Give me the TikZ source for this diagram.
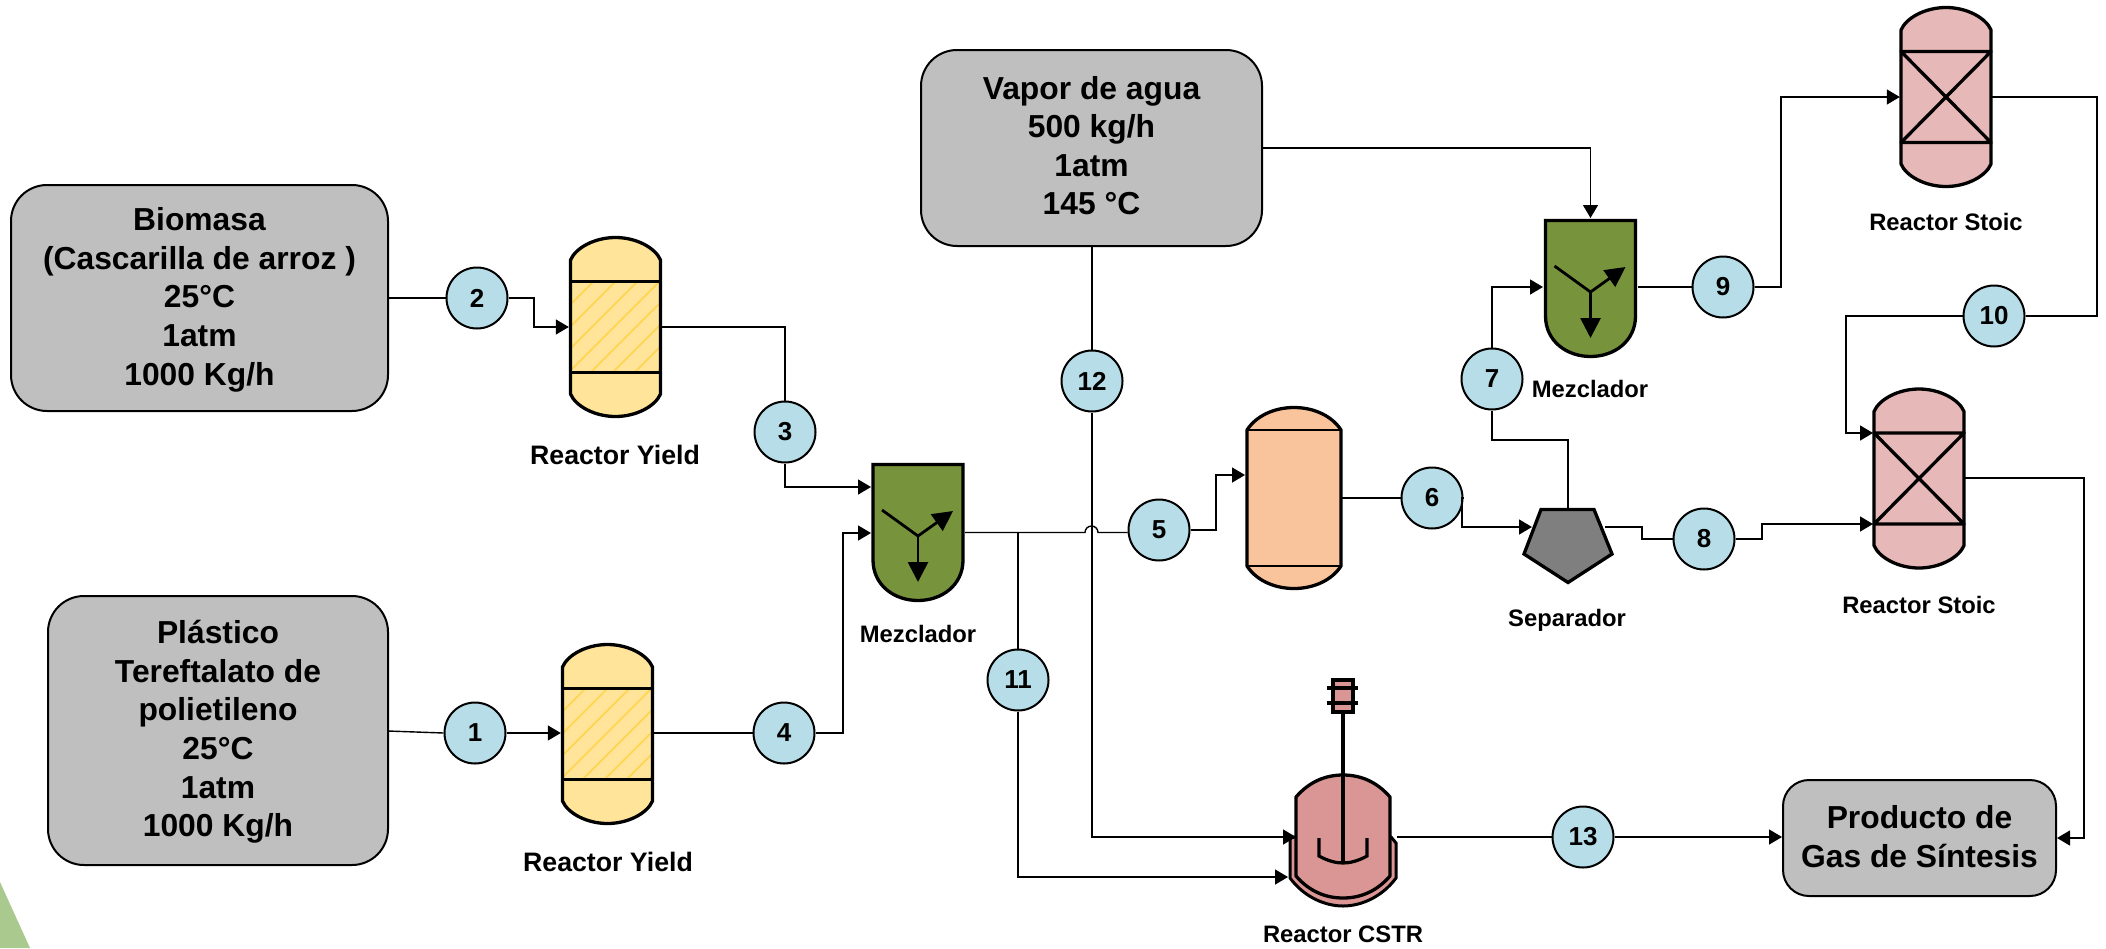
\documentclass[tikz,border=0pt]{standalone}
\usepackage{fontspec}
\setmainfont{Liberation Sans}
\usetikzlibrary{arrows.meta,calc}
\definecolor{boxgrey}{HTML}{BFBFBF}
\definecolor{yellowfill}{HTML}{FFE499}
\definecolor{hatchc}{HTML}{FFD44F}
\definecolor{mixgreen}{HTML}{77933C}
\definecolor{orangefill}{HTML}{F9C49C}
\definecolor{stoicpink}{HTML}{E6B8B7}
\definecolor{cstrpink}{HTML}{D99694}
\definecolor{sepgrey}{HTML}{7F7F7F}
\definecolor{bubble}{HTML}{B7DEE8}
\definecolor{wedge}{HTML}{A9C98F}
\tikzset{
  feedbox/.style={draw=black,line width=2pt,fill=boxgrey,rounded corners=36pt,inner sep=0pt,align=center,
    font=\fontsize{31.8}{38.6}\selectfont\bfseries},
  bub/.style={circle,draw=black,line width=2pt,fill=bubble,minimum size=61pt,inner sep=0pt,
    font=\fontsize{26}{30}\selectfont\bfseries},
  lab/.style={inner sep=0pt,font=\fontsize{23.8}{28}\selectfont\bfseries},
  labbig/.style={inner sep=0pt,font=\fontsize{26.7}{30}\selectfont\bfseries},
  port/.style={inner sep=0pt,minimum width=#1,minimum height=182pt},
  thick eq/.style={draw=black,line width=3.3pt,line join=round},
  flow/.style={draw=black,line width=1.4pt,-{Triangle[length=13pt,width=15pt]}},
  link/.style={draw=black,line width=1.4pt}
}
% vessel outline centred at (#1,#2)
\newcommand{\vesselpath}[2]{
  (#1-45,#2-67) .. controls (#1-40,#2-79) and (#1-21,#2-89.5) .. (#1,#2-89.5)
  .. controls (#1+21,#2-89.5) and (#1+40,#2-79) .. (#1+45,#2-67)
  -- (#1+45,#2+67) .. controls (#1+40,#2+79) and (#1+21,#2+89.5) .. (#1,#2+89.5)
  .. controls (#1-21,#2+89.5) and (#1-40,#2+79) .. (#1-45,#2+67) -- cycle}
\newcommand{\yieldvessel}[2]{
  \fill[yellowfill] \vesselpath{#1}{#2};
  \begin{scope}
    \clip (#1-45,#2-45.5) rectangle (#1+45,#2+45.5);
    \foreach \d in {-90,-68,...,100}{
      \draw[hatchc,line width=1.7pt] (#1-45+\d,#2+45.5) -- ++(95,-95);
    }
  \end{scope}
  \draw[thick eq] \vesselpath{#1}{#2};
  \draw[thick eq,line cap=butt] (#1-45,#2-45.5) -- (#1+45,#2-45.5);
  \draw[thick eq,line cap=butt] (#1-45,#2+45.5) -- (#1+45,#2+45.5);
}
\newcommand{\stoicvessel}[2]{
  \fill[stoicpink] \vesselpath{#1}{#2};
  \draw[thick eq] \vesselpath{#1}{#2};
  \draw[thick eq,line cap=butt] (#1-45,#2-45.5) -- (#1+45,#2-45.5) -- (#1-45,#2+45.5) -- (#1+45,#2+45.5) -- cycle;
}
% mixer with flat top: x centre, outer top y
\newcommand{\mixer}[2]{
  \draw[thick eq,line join=miter,fill=mixgreen] (#1-45,#2+1.5) -- (#1+45,#2+1.5) -- (#1+45,#2+97)
    .. controls (#1+45,#2+122) and (#1+24,#2+137.5) .. (#1,#2+137.5)
    .. controls (#1-24,#2+137.5) and (#1-45,#2+122) .. (#1-45,#2+97) -- cycle;
  \draw[line width=2.8pt,-{Triangle[length=20pt,width=20pt]}] (#1-36,#2+47) -- (#1,#2+73) -- (#1+35,#2+48);
  \draw[line width=2.8pt,-{Triangle[length=20pt,width=20pt]}] (#1,#2+73) -- (#1,#2+119);
}
\begin{document}
\begin{tikzpicture}[x=1pt,y=-1pt]
\useasboundingbox (0,0) rectangle (2106,948);
\fill[white] (0,0) rectangle (2106,948);
\fill[wedge] (0,882) -- (30,948) -- (0,948) -- cycle;

% equipment drawings
\yieldvessel{615.5}{327}
\yieldvessel{607.5}{734}
\stoicvessel{1946}{97}
\stoicvessel{1919}{478.5}
\mixer{918}{463}
\mixer{1590.5}{219}
% flash drum
\draw[thick eq,fill=orangefill]
  (1247,430) .. controls (1256,416) and (1274,407.5) .. (1294,407.5)
  .. controls (1314,407.5) and (1332,416) .. (1341,430) -- (1341,566)
  .. controls (1332,580) and (1314,588.5) .. (1294,588.5)
  .. controls (1274,588.5) and (1256,580) .. (1247,566) -- cycle;
\draw[line width=1.4pt] (1247,430) -- (1341,430);
\draw[line width=1.4pt] (1247,566) -- (1341,566);
% separator
\draw[thick eq,line join=miter,fill=sepgrey] (1541,509.5) -- (1594,509.5) -- (1612,554) -- (1568,582.5) -- (1524,554) -- cycle;
% CSTR
\draw[draw=black,line width=3pt,fill=cstrpink]
  (1290,838) -- (1290,878) .. controls (1304,897) and (1325,906) .. (1343,906)
  .. controls (1361,906) and (1382,897) .. (1396,878) -- (1396,843) -- (1391,837) -- (1295,837) -- cycle;
\draw[thick eq,fill=cstrpink] (1296,797) .. controls (1309,782) and (1325,775) .. (1343,775)
  .. controls (1361,775) and (1377,782) .. (1390,797) -- (1390,876)
  .. controls (1377,891) and (1361,898) .. (1343,898)
  .. controls (1325,898) and (1309,891) .. (1296,876) -- cycle;
\draw[line width=3.2pt] (1343,712) -- (1343,862);
\draw[line width=3.2pt] (1319,838) -- (1319,856) .. controls (1328,861) and (1336,863) .. (1343,863)
  .. controls (1350,863) and (1358,861) .. (1367,856) -- (1367,838);
\draw[line width=3.2pt,fill=cstrpink] (1333,680) rectangle (1353,712);
\draw[line width=3.2pt] (1327,688) -- (1358,688);
\draw[line width=3.2pt] (1327,703) -- (1358,703);

% named equipment anchors (invisible)
\node[port=93pt]  (ry1) at (615.5,327) {};
\node[port=93pt]  (ry2) at (607.5,734) {};
\node[port=92pt]  (rs1) at (1946,97) {};
\node[port=92pt]  (rs2) at (1919,478) {};
\node[port=96pt]  (drum) at (1294,498) {};
\coordinate (mx1a) at (871,487);
\coordinate (mx1b) at (871,533);
\coordinate (mx1o) at (965,532.5);
\coordinate (mx2t) at (1590.5,218);
\coordinate (mx2i) at (1543,287);
\coordinate (mx2o) at (1638,287);
\coordinate (drumin) at (1245,475);
\coordinate (septop) at (1568,508);
\coordinate (sepin) at (1532,527);
\coordinate (sepout) at (1605,527);
\coordinate (rs2a) at (1873,433);
\coordinate (rs2b) at (1873,524);
\coordinate (cstra) at (1296,837);
\coordinate (cstrb) at (1288,877);
\coordinate (cstro) at (1397,837);
\coordinate (hopa) at (1085,532.5);
\coordinate (branch) at (1018,532.5);

% feed boxes
\node[feedbox,minimum width=377pt,minimum height=226pt] (biomasa) at (199.5,298) {\rule{0pt}{26.5pt}Biomasa\\(Cascarilla de arroz )\\25°C\\1atm\\1000 Kg/h};
\node[feedbox,minimum width=340pt,minimum height=269pt] (plastico) at (218,730.5) {\rule{0pt}{26pt}Plástico\\Tereftalato de\\polietileno\\25°C\\1atm\\1000 Kg/h};
\node[feedbox,minimum width=341pt,minimum height=196pt] (vapor) at (1091.5,148) {Vapor de agua\\500 kg/h\\1atm\\\rule[-5pt]{0pt}{0pt}145 °C};
\node[feedbox,rounded corners=26pt,minimum width=273pt,minimum height=116pt] (prod) at (1919.5,838) {Producto de\\\rule[-2.5pt]{0pt}{0pt}Gas de Síntesis};

% stream bubbles
\node[bub] (n1) at (475,733) {1};
\node[bub] (n2) at (477,298) {2};
\node[bub] (n3) at (785,432) {3};
\node[bub] (n4) at (784,733) {4};
\node[bub] (n5) at (1159,530) {5};
\node[bub] (n6) at (1432,498) {6};
\node[bub] (n7) at (1492,379) {7};
\node[bub] (n8) at (1704,539) {8};
\node[bub] (n9) at (1723,287) {9};
\node[bub] (n10) at (1994,316) {10};
\node[bub] (n11) at (1018,680) {11};
\node[bub] (n12) at (1092,381) {12};
\node[bub] (n13) at (1583,837) {13};

% labels
\node[labbig] (l1) at (615,455) {Reactor Yield};
\node[labbig] (l2) at (608,862) {Reactor Yield};
\node[lab] (l3) at (918,634) {Mezclador};
\node[lab] (l4) at (1590,389) {Mezclador};
\node[lab] (l5) at (1567,620) {Separador};
\node[lab] (l6) at (1946,222) {Reactor Stoic};
\node[lab] (l7) at (1919,605) {Reactor Stoic};
\node[lab] (l8) at (1343,934) {Reactor CSTR};

% connectors
\draw[link] (biomasa.east |- n2) -- (n2.west);
\draw[flow] (n2.east) -- (534,298) |- (ry1.west);
\draw[link] (ry1.east) -- (785,327) -- (n3.north);
\draw[flow] (n3.south) |- (mx1a);
\draw[link] (388,731) -- (n1.west);
\draw[flow] (n1.east) -- (ry2.west |- n1);
\draw[link] (ry2.east |- n4) -- (n4.west);
\draw[flow] (n4.east) -- (843,733) |- (mx1b);
\draw[link] (mx1o) -- (hopa) arc[start angle=180,end angle=360,radius=6.5] -- (n5.west |- hopa);
\draw[flow] (n5.east) -- (1216,530) |- (drumin);
\draw[link] (branch) -- (n11.north);
\draw[flow] (n11.south) |- (cstrb);
\draw[link] (vapor.south -| n12) -- (n12.north);
\draw[flow] (n12.south) |- (cstra);
\draw[flow] (vapor.east) -| (mx2t);
\draw[link] (drum.east) -- (n6.west);
\draw[flow] (n6.east) -- (1462,498) |- (sepin);
\draw[link] (septop) -- (1568,440) -- (n7.south |- 0,440) -- (n7.south);
\draw[flow] (n7.north) |- (mx2i);
\draw[link] (mx2o) -- (n9.west);
\draw[flow] (n9.east) -- (1781,287) |- (rs1.west);
\draw[link] (rs1.east) -- (2097,97) |- (n10.east);
\draw[flow] (n10.west) -- (1846,316) |- (rs2a);
\draw[link] (sepout) -- (1642,527) |- (n8.west);
\draw[flow] (n8.east) -- (1762,539) |- (rs2b);
\draw[flow] (rs2.east) -- (2084,478) |- (prod.east);
\draw[link] (cstro) -- (n13.west);
\draw[flow] (n13.east) -- (prod.west |- n13);
\end{tikzpicture}
\end{document}
